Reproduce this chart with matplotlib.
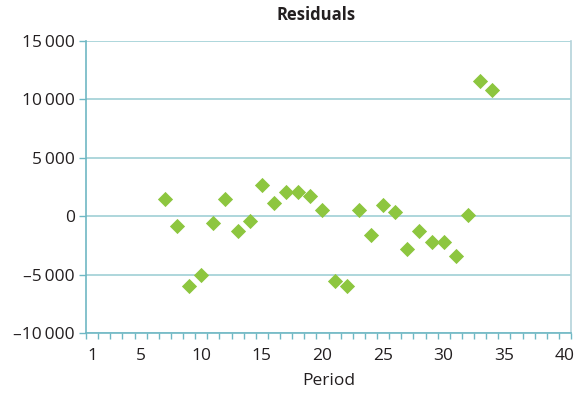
import numpy as np
import matplotlib
matplotlib.use("Agg")
from matplotlib import pyplot as plt
from matplotlib.ticker import FixedLocator, FuncFormatter

# data
period = [7, 8, 9, 10, 11, 12, 13, 14, 15, 16, 17, 18, 19, 20,
          21, 22, 23, 24, 25, 26, 27, 28, 29, 30, 31, 32, 33, 34]
residual = [1490, -850, -5970, -5000, -620, 1490, -1250, -450, 2680, 1110, 2080, 2080, 1710, 510,
            -5550, -5940, 510, -1620, 940, 320, -2780, -1250, -2220, -2220, -3410, 140, 11570, 10800]
y_ticks = [-10000, -5000, 0, 5000, 10000, 15000]
x_labels = [1, 5, 10, 15, 20, 25, 30, 35, 40]

text_col = "#231f20"
grid_col = "#9fd0d6"
axis_col = "#6fb8c4"
marker_col = "#8dc63f"

plt.rcParams["font.family"] = ["Open Sans", "DejaVu Sans"]

fig = plt.figure(figsize=(5.86, 3.94), dpi=100)
ax = fig.add_axes([86 / 586, 1 - 333 / 394, (571 - 86) / 586, (333 - 41) / 394])

ax.scatter(period, residual, marker="D", s=60, color=marker_col, linewidths=0, zorder=3)

ax.set_xlim(0.5, 40.5)
ax.set_ylim(-10000, 15000)

ax.yaxis.set_major_locator(FixedLocator(y_ticks))
ax.yaxis.set_major_formatter(FuncFormatter(
    lambda v, p: ("\u2013" if v < 0 else "") + f"{abs(int(v)):,}".replace(",", "\u2009")))
ax.grid(axis="y", color=grid_col, linewidth=1.2, zorder=0)

ax.xaxis.set_major_locator(FixedLocator(x_labels))
ax.xaxis.set_minor_locator(FixedLocator(np.arange(0.5, 41, 1)))
ax.tick_params(axis="x", which="major", length=0, pad=11)
ax.tick_params(axis="x", which="minor", length=4, width=1, color=axis_col, direction="out")
ax.tick_params(axis="y", length=5, width=1, color=axis_col, pad=3)
ax.tick_params(labelsize=12.5, labelcolor=text_col)

for side in ["left", "bottom"]:
    ax.spines[side].set_color(axis_col)
    ax.spines[side].set_linewidth(1.2)
ax.spines["right"].set_color("#b4d3da")
ax.spines["top"].set_visible(False)
ax.spines["right"].set_linewidth(1.2)

ax.set_xlabel("Period", fontsize=12.5, color=text_col, labelpad=6)
fig.text(316 / 586, 1 - 15 / 394, "Residuals", ha="center", va="center",
         fontsize=12, fontweight="bold", color=text_col)

fig.savefig("out.png", dpi=100)
